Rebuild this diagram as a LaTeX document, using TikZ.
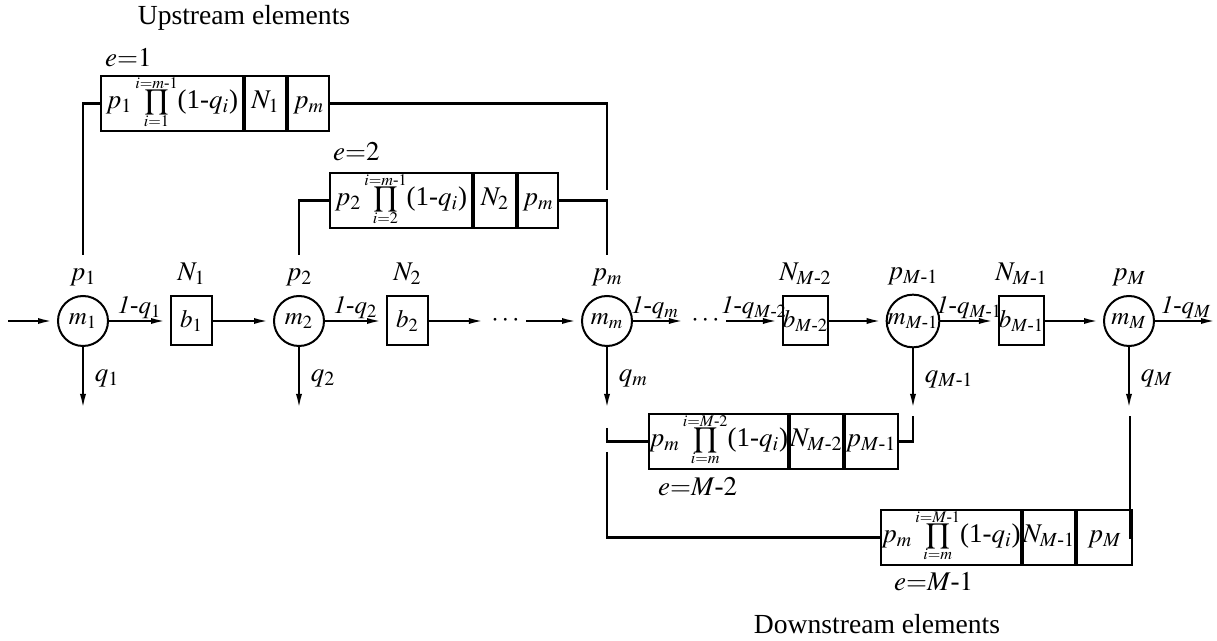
\documentclass[tikz,border=0pt]{standalone}
\usepackage{amsmath}
\usepackage{mathptmx}
\usepackage{fontspec}
\setmainfont{Liberation Serif}
\usetikzlibrary{positioning,arrows.meta,calc}

% product with tight limits
\newcommand{\prodlim}[2]{\mathop{\vcenter{\offinterlineskip\halign{\hfil$##$\hfil\cr\scriptscriptstyle #2\cr\noalign{\kern0.6pt}\vcenter{\hbox{\scalebox{0.74}{$\displaystyle\prod$}}}\cr\noalign{\kern0.6pt}\scriptscriptstyle #1\cr}}}}

\begin{document}
\begin{tikzpicture}[
                    x=0.5pt, y=-0.5pt,
                    font=\fontsize{13.5}{15}\selectfont,
                    machine/.style={circle, draw, line width=1pt, minimum size=25pt, inner sep=0pt, font=\fontsize{12.5}{14}\selectfont},
                    buffer/.style={rectangle, draw, line width=1pt, minimum width=20.5pt, minimum height=24.5pt, inner sep=0pt, font=\fontsize{12.5}{14}\selectfont},
                    cell/.style={rectangle, draw, line width=1pt, minimum height=27.5pt, inner sep=0pt, text height=9pt, text depth=4pt},
                    flow/.style={line width=1.2pt, -{Latex[length=8pt,width=3pt]}, shorten >=1.5pt},
                    rate/.style={above, inner sep=0.5pt, font=\fontsize{12.5}{14}\selectfont},
                    link/.style={line width=1.2pt}
                ]
                    \useasboundingbox (0,0) rectangle (1217,641);

                    % Machines and buffers on the line
                    \node[machine] (m1) at (83,321) {$m_1$};
                    \node[buffer] (b1) at (191.5,321) {$b_1$};
                    \node[machine] (m2) at (299,321) {$m_2$};
                    \node[buffer] (b2) at (407.5,321) {$b_2$};
                    \node[machine] (mm) at (607,321) {$m_m$};
                    \node[buffer] (bM2) at (805.5,321) {$b_{M\text{-}2}$};
                    \node[machine] (mM1) at (913,321) {$m_{M\text{-}1}$};
                    \node[buffer] (bM1) at (1021.5,321) {$b_{M\text{-}1}$};
                    \node[machine] (mM) at (1129,321) {$m_M$};
                    \node[inner sep=1.5pt] (dots1) at (507,321) {$\cdots$};
                    \node[inner sep=1.5pt] (dots2) at (707,321) {$\cdots$};
                    \coordinate (in) at (8,321);
                    \coordinate (out) at (1217,321);

                    % Failure rates and buffer sizes
                    \node[above=1pt of m1] (p1) {$p_1$};
                    \node[above=1pt of m2] (p2) {$p_2$};
                    \node[above=1pt of mm] (pm) {$p_m$};
                    \node[above=1pt of mM1] (pM1) {$p_{M\text{-}1}$};
                    \node[above=1pt of mM] (pM) {$p_M$};
                    \node[above=2pt of b1] (N1) {$N_1$};
                    \node[above=2pt of b2] (N2) {$N_2$};
                    \node[above=2pt of bM2] (NM2) {$N_{M\text{-}2}$};
                    \node[above=2pt of bM1] (NM1) {$N_{M\text{-}1}$};

                    % Flow along the line
                    \draw[flow] (in) -- (m1);
                    \draw[flow] (m1) -- node[rate] {$\mathit{1}$-$q_1$} (b1);
                    \draw[flow] (b1) -- (m2);
                    \draw[flow] (m2) -- node[rate] {$\mathit{1}$-$q_2$} (b2);
                    \draw[flow] (b2) -- (dots1);
                    \draw[flow] (dots1) -- (mm);
                    \draw[flow] (mm) -- node[rate, pos=0.4] {$\mathit{1}$-$q_m$} (dots2);
                    \draw[flow] (dots2) -- node[rate, pos=0.5] {$\mathit{1}$-$q_{M\text{-}2}$} (bM2);
                    \draw[flow] (bM2) -- (mM1);
                    \draw[flow] (mM1) -- node[rate, pos=0.5] {$\mathit{1}$-$q_{M\text{-}1}$} (bM1);
                    \draw[flow] (bM1) -- (mM);
                    \draw[flow, shorten >=0pt] (mM) -- node[rate] {$\mathit{1}$-$q_M$} (out);

                    % Scrap outputs
                    \coordinate (q1e) at (83,410);
                    \coordinate (q2e) at (299,410);
                    \coordinate (qme) at (607,410);
                    \coordinate (qM1e) at (913,410);
                    \coordinate (qMe) at (1129,410);
                    \draw[flow, shorten >=0pt] (m1) -- node[right, xshift=2pt] {$q_1$} (q1e);
                    \draw[flow, shorten >=0pt] (m2) -- node[right, xshift=2pt] {$q_2$} (q2e);
                    \draw[flow, shorten >=0pt] (mm) -- node[right, xshift=2pt] {$q_m$} (qme);
                    \draw[flow, shorten >=0pt] (mM1) -- node[right, xshift=2pt] {$q_{M\text{-}1}$} (qM1e);
                    \draw[flow, shorten >=0pt] (mM) -- node[right, xshift=2pt] {$q_M$} (qMe);

                    % Upstream elements
                    \node[cell, minimum width=71pt] (u1a) at (172,103.5) {$p_1\prodlim{i=1}{i=m\text{-}1}$(1-$q_i$)};
                    \node[cell, minimum width=20.5pt, right=0pt of u1a] (u1b) {$N_1$};
                    \node[cell, minimum width=20.5pt, right=0pt of u1b] (u1c) {$p_m$};
                    \node[cell, minimum width=71pt] (u2a) at (401,200.5) {$p_2\prodlim{i=2}{i=m\text{-}1}$(1-$q_i$)};
                    \node[cell, minimum width=21pt, right=0pt of u2a] (u2b) {$N_2$};
                    \node[cell, minimum width=20pt, right=0pt of u2b] (u2c) {$p_m$};
                    \coordinate (u1s) at (83,255);
                    \coordinate (u1e) at (607,190);
                    \coordinate (u2s) at (299,255);
                    \coordinate (u2e) at (607,255);
                    \draw[link] (u1s) |- (u1a.west);
                    \draw[link] (u1c.east) -| (u1e);
                    \draw[link] (u2s) |- (u2a.west);
                    \draw[link] (u2c.east) -| (u2e);

                    % Downstream elements
                    \node[cell, minimum width=61.5pt] (d1a) at (718.5,441.5) {$p_m\prodlim{i=m}{i=M\text{-}2}$(1-$q_i$)};
                    \node[cell, minimum width=24pt, right=0pt of d1a] (d1b) {$N_{M\text{-}2}$};
                    \node[cell, minimum width=26.5pt, right=0pt of d1b] (d1c) {$p_{M\text{-}1}$};
                    \node[cell, minimum width=61pt] (d2a) at (951,537.5) {$p_m\prodlim{i=m}{i=M\text{-}1}$(1-$q_i$)};
                    \node[cell, minimum width=24pt, right=0pt of d2a] (d2b) {$N_{M\text{-}1}$};
                    \node[cell, minimum width=27.5pt, right=0pt of d2b] (d2c) {$p_M$};
                    \coordinate (d1s) at (607,428);
                    \coordinate (d1e) at (913,416);
                    \coordinate (d2s) at (607,452);
                    \coordinate (d2e) at (1130,416);
                    \draw[link] (d1s) |- (d1a.west);
                    \draw[link] (d1c.east) -| (d1e);
                    \draw[link] (d2s) |- (d2a.west);
                    \draw[link] (d2c.east) -| (d2e);

                    % Element labels
                    \node[anchor=west] (e1) at (98,58) {$e{=}1$};
                    \node[anchor=west] (e2) at (326,152) {$e{=}2$};
                    \node[anchor=west] (eM2) at (651,487) {$e{=}M\text{-}2$};
                    \node[anchor=west] (eM1) at (887,582) {$e{=}M\text{-}1$};
                    \node[font=\fontsize{13.8}{16}\selectfont] (up) at (244,18) {Upstream elements};
                    \node[font=\fontsize{13.8}{16}\selectfont] (down) at (877,624) {Downstream elements};
                \end{tikzpicture}
\end{document}
